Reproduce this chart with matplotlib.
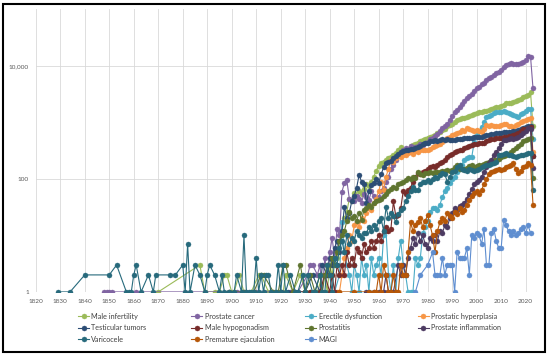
import numpy as np
import matplotlib
matplotlib.use("Agg")
import matplotlib.pyplot as plt
from matplotlib.ticker import FixedLocator, FuncFormatter, MultipleLocator, NullLocator
from matplotlib.patches import Rectangle

plt.rcParams['font.family'] = ['Lato', 'DejaVu Sans']

# yearly counts from 1940 to 2023 (0 = no paper that year)
years = np.arange(1940, 2024)

male_infertility_early_yr = [1870, 1887, 1889, 1893, 1895, 1897, 1898, 1900, 1901, 1903, 1905, 1908, 1911,
                             1912, 1915, 1917, 1918, 1921, 1922, 1925, 1928, 1930, 1932, 1935, 1937, 1938, 1939]
male_infertility_early = [1, 3, 1, 1, 1, 2, 2, 1, 1, 2, 1, 1, 2, 2, 1, 1, 1, 1, 2, 1, 2, 1, 1, 1, 2, 2, 1]
male_infertility = [3, 2, 5, 4, 8, 12, 20, 26, 45, 40,
                    56, 48, 60, 55, 65, 80, 75, 90, 110, 140,
                    170, 190, 200, 218, 230, 240, 260, 290, 330, 370,
                    300, 290, 330, 380, 400, 420, 430, 460, 490, 500,
                    520, 550, 580, 600, 640, 680, 720, 780, 850, 900,
                    950, 1020, 1100, 1150, 1180, 1200, 1250, 1300, 1350, 1400,
                    1450, 1500, 1550, 1580, 1620, 1680, 1750, 1800, 1850, 1900,
                    1950, 2050, 2200, 2250, 2250, 2300, 2350, 2450, 2600, 2800,
                    2900, 3100, 3400, 850]

prostate_cancer_early_yr = [1848, 1849, 1850, 1851, 1861, 1899, 1902, 1904, 1906, 1910, 1913, 1916,
                            1920, 1924, 1925, 1927, 1931, 1932, 1933, 1935, 1936, 1937, 1938, 1939]
prostate_cancer_early = [1, 1, 1, 1, 1, 1, 1, 1, 1, 1, 1, 1, 1, 1, 1, 1, 2, 3, 3, 2, 3, 1, 4, 2]
prostate_cancer = [5, 9, 4, 13, 10, 59, 85, 95, 45, 42,
                   40, 50, 45, 38, 55, 48, 42, 60, 50, 45,
                   48, 60, 70, 90, 110, 150, 180, 220, 260, 300,
                   330, 350, 340, 380, 350, 360, 380, 420, 400, 430,
                   450, 500, 530, 580, 620, 700, 800, 850, 950, 1100,
                   1300, 1500, 1650, 1900, 2100, 2400, 2700, 2900, 3200, 3600,
                   4000, 4300, 4700, 5000, 5600, 6000, 6500, 7000, 7500, 7900,
                   8500, 9500, 10500, 11000, 11200, 10800, 10900, 11000, 11200, 11700,
                   12500, 15000, 14500, 4000]

erectile_dysfunction = [0, 0, 1, 0, 2, 17, 5, 3, 2, 1,
                        3, 2, 1, 4, 2, 3, 1, 4, 2, 3,
                        4, 2, 10, 12, 2, 1, 3, 1, 4, 8,
                        3, 2, 1, 1, 1, 4, 3, 4, 11, 14,
                        18, 26, 30, 31, 28, 35, 48, 60, 70, 85,
                        100, 110, 130, 150, 180, 218, 230, 240, 245, 450,
                        600, 700, 830, 1000, 1250, 1300, 1350, 1450, 1500, 1550,
                        1550, 1600, 1500, 1450, 1400, 1350, 1300, 1250, 1400, 1480,
                        1600, 1740, 1700, 500]

prostatic_hyperplasia = [0, 0, 0, 1, 1, 2, 4, 6, 10, 8,
                         15, 17, 14, 20, 18, 25, 30, 28, 37, 45,
                         60, 89, 64, 110, 150, 218, 200, 230, 250, 240,
                         260, 270, 290, 300, 280, 310, 300, 320, 330, 325,
                         330, 340, 360, 380, 400, 420, 450, 480, 520, 560,
                         600, 620, 650, 680, 730, 700, 800, 750, 720, 700,
                         720, 700, 680, 750, 910, 850, 900, 880, 860, 870,
                         900, 950, 920, 880, 850, 830, 900, 950, 1000, 1050,
                         1100, 1150, 1200, 300]

testicular_tumors_early_yr = [1920, 1923, 1926, 1930, 1933, 1936, 1937, 1939]
testicular_tumors_early = [1, 1, 1, 1, 2, 1, 3, 2]
testicular_tumors = [4, 3, 6, 8, 5, 12, 32, 20, 25, 40,
                     50, 70, 117, 90, 80, 37, 60, 78, 85, 100,
                     85, 120, 160, 195, 200, 210, 230, 250, 280, 300,
                     310, 320, 330, 340, 345, 350, 370, 390, 410, 430,
                     440, 460, 470, 480, 470, 480, 500, 490, 500, 490,
                     480, 490, 500, 500, 510, 520, 530, 520, 540, 550,
                     550, 560, 560, 580, 600, 610, 620, 630, 640, 650,
                     660, 670, 680, 690, 690, 700, 710, 730, 760, 800,
                     820, 850, 870, 250]

male_hypogonadism_early_yr = [1925, 1932, 1936, 1938]
male_hypogonadism_early = [1, 1, 1, 2]
male_hypogonadism = [1, 2, 1, 3, 2, 3, 2, 5, 3, 4,
                     3, 6, 5, 4, 7, 5, 6, 8, 6, 8,
                     10, 8, 12, 14, 12, 13, 40, 22, 23, 30,
                     60, 55, 64, 70, 90, 110, 127, 120, 130, 140,
                     150, 160, 170, 165, 180, 190, 200, 220, 240, 260,
                     280, 300, 310, 320, 330, 350, 360, 380, 400, 410,
                     420, 430, 430, 440, 460, 480, 500, 510, 520, 530,
                     540, 550, 560, 570, 580, 600, 620, 650, 700, 750,
                     780, 800, 820, 250]

prostatitis_early_yr = [1899, 1905, 1909, 1912, 1913, 1917, 1919, 1921, 1922, 1925, 1928, 1930,
                        1932, 1934, 1936, 1937, 1938, 1939]
prostatitis_early = [1, 1, 1, 2, 2, 1, 1, 3, 3, 1, 3, 1, 2, 1, 2, 1, 2, 3]
prostatitis = [2, 4, 3, 5, 8, 10, 12, 18, 26, 20,
               22, 18, 25, 19, 28, 30, 35, 32, 38, 40,
               42, 45, 50, 55, 60, 65, 72, 70, 80, 85,
               90, 95, 104, 100, 110, 105, 130, 120, 118, 125,
               127, 130, 127, 130, 135, 132, 138, 140, 142, 140,
               145, 160, 177, 150, 150, 148, 155, 170, 177, 165,
               170, 175, 180, 185, 195, 200, 210, 218, 220, 225,
               240, 250, 260, 280, 300, 325, 350, 380, 420, 460,
               490, 500, 520, 105]

prostate_inflammation = [0, 0, 0, 0, 0, 0, 0, 0, 0, 0,
                         0, 0, 0, 0, 0, 1, 0, 0, 1, 0,
                         1, 0, 1, 2, 1, 1, 1, 0, 3, 2,
                         3, 2, 4, 6, 9, 7, 11, 8, 10, 7,
                         6, 9, 8, 10, 8, 12, 11, 15, 14, 20,
                         25, 31, 28, 33, 35, 37, 45, 55, 65, 80,
                         90, 96, 110, 130, 160, 190, 218, 260, 300, 350,
                         420, 490, 480, 500, 520, 510, 530, 550, 600, 650,
                         700, 800, 750, 155]

varicocele_early_yr = [1829, 1834, 1840, 1850, 1853, 1857, 1858, 1859, 1860, 1861,
                       1863, 1866, 1868, 1869, 1875, 1877, 1880, 1881, 1882, 1883,
                       1885, 1887, 1889, 1890, 1891, 1893, 1895, 1896, 1897, 1899,
                       1901, 1902, 1904, 1905, 1906, 1907, 1908, 1909, 1910, 1911,
                       1912, 1913, 1914, 1915, 1916, 1918, 1919, 1920, 1921, 1922,
                       1924, 1926, 1927, 1929, 1930, 1931, 1933, 1934, 1936, 1937,
                       1938, 1939]
varicocele_early = [1, 1, 2, 2, 3, 1, 1, 1, 2, 3,
                    1, 2, 1, 2, 2, 2, 3, 1, 7, 1,
                    3, 2, 1, 2, 3, 2, 1, 2, 1, 1,
                    1, 2, 1, 10, 1, 1, 1, 1, 4, 1,
                    2, 1, 2, 2, 1, 1, 3, 1, 3, 1,
                    2, 1, 1, 2, 1, 2, 1, 1, 2, 1,
                    1, 3]
varicocele = [2, 1, 4, 3, 6, 8, 5, 10, 7, 9,
              8, 12, 10, 9, 11, 11, 14, 12, 15, 13,
              18, 20, 12, 32, 20, 25, 22, 17, 24, 28,
              30, 40, 50, 60, 72, 64, 64, 80, 88, 90,
              96, 90, 100, 110, 105, 115, 127, 120, 90, 110,
              130, 140, 160, 177, 150, 145, 140, 150, 145, 140,
              145, 150, 160, 170, 175, 180, 185, 190, 200, 265,
              270, 280, 290, 270, 260, 250, 245, 250, 260, 270,
              280, 290, 290, 64]

premature_ejaculation = [0, 0, 0, 0, 1, 0, 0, 0, 0, 0,
                         1, 0, 0, 0, 0, 0, 1, 0, 1, 1,
                         2, 1, 3, 2, 1, 1, 2, 1, 1, 3,
                         2, 2, 5, 17, 12, 15, 17, 20, 14, 18,
                         23, 15, 10, 5, 12, 17, 20, 18, 25, 22,
                         20, 26, 24, 30, 26, 28, 35, 42, 50, 57,
                         60, 55, 64, 80, 100, 120, 133, 140, 145, 150,
                         145, 150, 160, 170, 180, 190, 150, 127, 140, 163,
                         170, 190, 180, 35]

magi = [0, 0, 0, 0, 0, 0, 0, 0, 0, 0,
        0, 0, 0, 0, 0, 0, 0, 0, 0, 0,
        0, 0, 0, 0, 0, 0, 0, 0, 0, 0,
        0, 0, 0, 0, 0, 1, 0, 2, 0, 0,
        3, 0, 5, 2, 2, 2, 4, 2, 3, 3,
        3, 1, 5, 4, 4, 4, 6, 2, 10, 9,
        11, 10, 7, 13, 3, 3, 11, 13, 8, 6,
        6, 19, 15, 12, 10, 12, 10, 11, 13, 14,
        11, 15, 11, 0]


def series(counts, early_yr=(), early=()):
    x = np.concatenate([np.array(early_yr, dtype=float), years])
    y = np.concatenate([np.array(early, dtype=float), np.array(counts, dtype=float)])
    keep = y > 0
    return x[keep], y[keep]


data = [
    ("Male infertility", "#9BBB59", series(male_infertility, male_infertility_early_yr, male_infertility_early)),
    ("Prostate cancer", "#8064A2", series(prostate_cancer, prostate_cancer_early_yr, prostate_cancer_early)),
    ("Erectile dysfunction", "#4BACC6", series(erectile_dysfunction)),
    ("Prostatic hyperplasia", "#F79646", series(prostatic_hyperplasia)),
    ("Testicular tumors", "#2C4D75", series(testicular_tumors, testicular_tumors_early_yr, testicular_tumors_early)),
    ("Male hypogonadism", "#772C2A", series(male_hypogonadism, male_hypogonadism_early_yr, male_hypogonadism_early)),
    ("Prostatitis", "#5F7530", series(prostatitis, prostatitis_early_yr, prostatitis_early)),
    ("Prostate inflammation", "#4D3B62", series(prostate_inflammation)),
    ("Varicocele", "#276A7C", series(varicocele, varicocele_early_yr, varicocele_early)),
    ("Premature ejaculation", "#B65708", series(premature_ejaculation)),
    ("MAGI", "#5F8ED0", series(magi)),
]

fig = plt.figure(figsize=(5.5, 3.56), dpi=100)
ax = fig.add_axes([0.065, 0.18, 0.913, 0.7935])

handles = []
for name, color, (x, y) in data:
    h, = ax.plot(x, y, '-o', color=color, lw=0.8, ms=3.6, mfc=color, mec=color, mew=0.3, label=name)
    handles.append(h)

ax.set_yscale('log')
ax.set_ylim(1, 1e5)
ax.set_xlim(1820, 2025)
ax.xaxis.set_major_locator(MultipleLocator(10))
ax.yaxis.set_major_locator(FixedLocator([1, 100, 10000]))
ax.yaxis.set_minor_locator(NullLocator())
ax.yaxis.set_major_formatter(FuncFormatter(lambda v, p: f"{v:,.0f}"))
ax.grid(color='#D9D9D9', lw=0.6)
ax.set_axisbelow(True)
for s in ax.spines.values():
    s.set_visible(False)
ax.tick_params(length=0, labelsize=4.6, colors='#595959')
ax.tick_params(axis='y', pad=5)
ax.tick_params(axis='x', pad=5)

# legend laid out row by row in four evenly spaced columns
col_x = [0.142, 0.348, 0.555, 0.760]
for c in range(4):
    idx = list(range(c, len(handles), 4))
    leg = fig.legend([handles[i] for i in idx], [data[i][0] for i in idx],
                     loc='upper left', bbox_to_anchor=(col_x[c], 0.122), frameon=False,
                     fontsize=5.2, handlelength=1.5, handletextpad=0.35, labelspacing=0.62,
                     borderpad=0, borderaxespad=0)
    for t in leg.get_texts():
        t.set_color('#404040')

fig.patches.append(Rectangle((0.006, 0.011), 0.984, 0.979, transform=fig.transFigure,
                             fill=False, lw=1.5, ec='black'))

fig.savefig("out.png", dpi=100)
